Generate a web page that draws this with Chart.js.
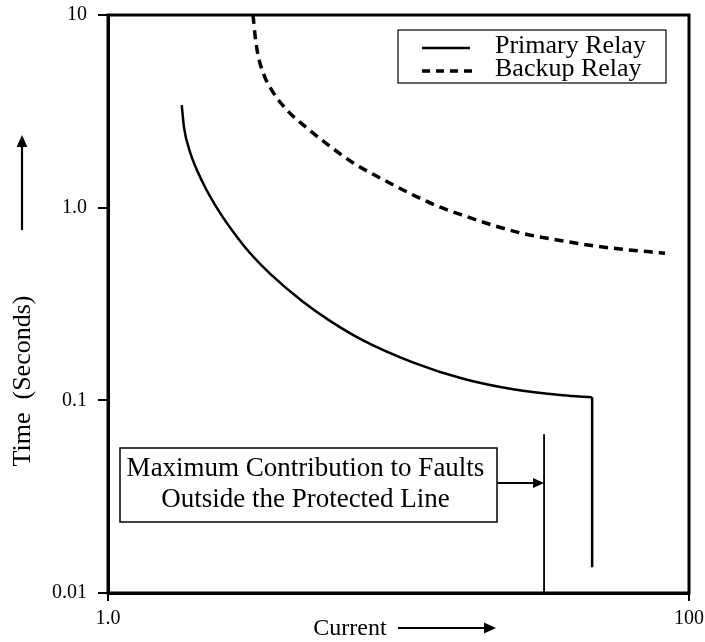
<!DOCTYPE html>
<html>
<head>
<meta charset="utf-8">
<script src="https://cdn.jsdelivr.net/npm/chart.js@4/dist/chart.umd.min.js"></script>
<style>
  body { margin: 0; background: #fff; }
  #wrap { width: 705px; height: 642px; }
</style>
</head>
<body>
<div id="wrap"><canvas id="relayChart" width="705" height="642"></canvas></div>
<script>
// relay curves, current (multiples) vs operating time in seconds
const primaryCurrent = [1.794, 1.826, 1.915, 2.123, 2.43, 2.78, 3.08, 3.61, 4.69, 5.81, 7.55, 11.2, 16.7, 24.8, 36.8, 46.4];
const primaryTime = [3.41, 2.62, 1.946, 1.344, 0.939, 0.705, 0.582, 0.455, 0.325, 0.2586, 0.2048, 0.1575, 0.1293, 0.1141, 0.1062, 0.1036];
const primaryDropCurrent = [46.4, 46.4];
const primaryDropTime = [0.1036, 0.0136];
const backupCurrent = [3.157, 3.207, 3.284, 3.444, 3.698, 4.13, 4.84, 5.72, 6.97, 8.64, 10.7, 13.4, 16.9, 21.5, 27.3, 35.1, 44.9, 57.9, 82.7];
const backupTime = [10, 7.87, 6.20, 4.88, 3.98, 3.21, 2.59, 2.12, 1.71, 1.426, 1.206, 1.03, 0.906, 0.804, 0.730, 0.680, 0.640, 0.610, 0.580];
const faultCurrent = [31.7, 31.7];
const faultTime = [0.0667, 0.01];

const yTickValues = [0.01, 0.1, 1, 10];
const yTickLabels = ["0.01", "0.1", "1.0", "10"];
const xTickValues = [1, 100];
const xTickLabels = ["1.0", "100"];

const seriesNames = ["Primary Relay", "Backup Relay"];
const boxLines = ["Maximum Contribution to Faults", "Outside the Protected Line"];

const SERIF = "'Liberation Serif', 'Times New Roman', serif";

const toPoints = (xs, ys) => xs.map((x, i) => ({ x: x, y: ys[i] }));

const arrowHead = (ctx, x, y, dir, size) => {
    // dir: "right" or "up"
    ctx.beginPath();
    if (dir === "right") {
        ctx.moveTo(x, y);
        ctx.lineTo(x - size, y - size * 0.45);
        ctx.lineTo(x - size, y + size * 0.45);
    } else {
        ctx.moveTo(x, y);
        ctx.lineTo(x - size * 0.45, y + size);
        ctx.lineTo(x + size * 0.45, y + size);
    }
    ctx.closePath();
    ctx.fill();
}

const decorations = {
    id: "decorations",
    afterDraw(chart) {
        const ctx = chart.ctx;
        const area = chart.chartArea;
        const xs = chart.scales.x;
        ctx.save();
        ctx.strokeStyle = "#000";
        ctx.fillStyle = "#000";

        // frame round the plot
        ctx.lineWidth = 3;
        ctx.strokeRect(area.left, area.top, area.right - area.left, area.bottom - area.top);

        // legend
        const lx = 398, ly = 30, lw = 268, lh = 53;
        ctx.lineWidth = 1.2;
        ctx.strokeRect(lx, ly, lw, lh);
        ctx.lineWidth = 2.5;
        ctx.beginPath();
        ctx.moveTo(422, 48);
        ctx.lineTo(470, 48);
        ctx.stroke();
        ctx.lineWidth = 3.5;
        ctx.setLineDash([8, 6]);
        ctx.beginPath();
        ctx.moveTo(422, 71);
        ctx.lineTo(472, 71);
        ctx.stroke();
        ctx.setLineDash([]);
        ctx.font = "26px " + SERIF;
        ctx.textAlign = "left";
        ctx.textBaseline = "middle";
        ctx.fillText(seriesNames[0], 495, 46);
        ctx.fillText(seriesNames[1], 495, 69);

        // annotation box and arrow to the fault line
        const bx = 120, by = 448, bw = 377, bh = 74;
        ctx.lineWidth = 1.5;
        ctx.strokeRect(bx, by, bw, bh);
        ctx.font = "27px " + SERIF;
        ctx.textAlign = "center";
        ctx.fillText(boxLines[0], bx + bw / 2 - 3, 469);
        ctx.fillText(boxLines[1], bx + bw / 2 - 3, 500);
        const fx = xs.getPixelForValue(faultCurrent[0]);
        ctx.lineWidth = 1.8;
        ctx.beginPath();
        ctx.moveTo(bx + bw, 483);
        ctx.lineTo(fx - 8, 483);
        ctx.stroke();
        arrowHead(ctx, fx, 483, "right", 11);

        // axis titles with arrows
        ctx.font = "26px " + SERIF;
        ctx.save();
        ctx.translate(23, 381);
        ctx.rotate(-Math.PI / 2);
        ctx.textAlign = "center";
        ctx.fillText("Time  (Seconds)", 0, 0);
        ctx.restore();
        ctx.lineWidth = 2.2;
        ctx.beginPath();
        ctx.moveTo(22, 230);
        ctx.lineTo(22, 145);
        ctx.stroke();
        arrowHead(ctx, 22, 135, "up", 12);

        ctx.font = "24px " + SERIF;
        ctx.textAlign = "center";
        ctx.fillText("Current", 350, 629);
        ctx.beginPath();
        ctx.moveTo(398, 628);
        ctx.lineTo(486, 628);
        ctx.stroke();
        arrowHead(ctx, 496, 628, "right", 12);

        ctx.restore();
    }
};

const config = {
    type: "line",
    data: {
        datasets: [{
            label: seriesNames[0],
            data: toPoints(primaryCurrent, primaryTime),
            borderColor: "#000",
            borderWidth: 2.5,
            pointRadius: 0,
            cubicInterpolationMode: "monotone"
        }, {
            label: seriesNames[0] + " drop",
            data: toPoints(primaryDropCurrent, primaryDropTime),
            borderColor: "#000",
            borderWidth: 2.5,
            pointRadius: 0
        }, {
            label: seriesNames[1],
            data: toPoints(backupCurrent, backupTime),
            borderColor: "#000",
            borderWidth: 3.5,
            borderDash: [9, 6],
            pointRadius: 0,
            cubicInterpolationMode: "monotone"
        }, {
            label: "fault limit",
            data: toPoints(faultCurrent, faultTime),
            borderColor: "#000",
            borderWidth: 1.8,
            pointRadius: 0
        }]
    },
    options: {
        responsive: false,
        animation: false,
        events: [],
        layout: { padding: { top: 15, right: 16, left: 0, bottom: 0 } },
        plugins: { legend: { display: false }, tooltip: { enabled: false } },
        scales: {
            x: {
                type: "logarithmic",
                min: 1,
                max: 100,
                afterBuildTicks: (s) => { s.ticks = xTickValues.map(v => ({ value: v })); },
                afterFit: (s) => { s.height = 49; s.paddingLeft = 0; s.paddingRight = 0; },
                border: { display: true, color: "#000", width: 3 },
                grid: { drawOnChartArea: false, drawTicks: true, tickLength: 8, color: "#000", lineWidth: 2 },
                ticks: {
                    color: "#000",
                    padding: 6,
                    maxRotation: 0,
                    font: { family: SERIF, size: 20 },
                    callback: (v) => xTickLabels[xTickValues.indexOf(v)]
                }
            },
            y: {
                type: "logarithmic",
                min: 0.01,
                max: 10,
                afterBuildTicks: (s) => { s.ticks = yTickValues.map(v => ({ value: v })); },
                afterFit: (s) => { s.width = 108; s.paddingTop = 0; s.paddingBottom = 0; },
                border: { display: true, color: "#000", width: 3 },
                grid: { drawOnChartArea: false, drawTicks: true, tickLength: 10, color: "#000", lineWidth: 2 },
                ticks: {
                    color: "#000",
                    padding: 11,
                    font: { family: SERIF, size: 20 },
                    callback: (v) => yTickLabels[yTickValues.indexOf(v)]
                }
            }
        }
    },
    plugins: [decorations]
};

new Chart(document.getElementById("relayChart"), config);
</script>
</body>
</html>
